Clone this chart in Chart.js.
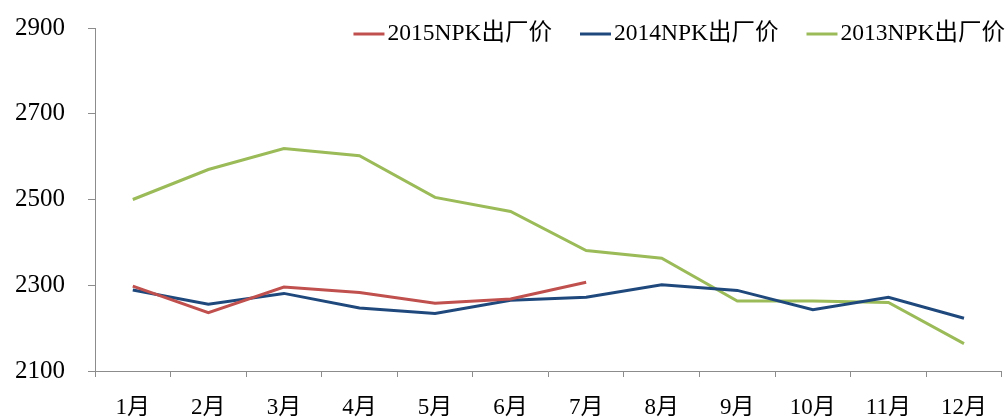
<!DOCTYPE html>
<html>
<head>
<meta charset="utf-8">
<script src="https://cdn.jsdelivr.net/npm/chart.js@4.4.0/dist/chart.umd.min.js"></script>
<style>
  html, body { margin: 0; padding: 0; background: #fff; }
  #wrap { width: 1006px; height: 419px; }
</style>
</head>
<body>
<div id="wrap"><canvas id="precios" width="1006" height="419"></canvas></div>
<script>
const meses = ["1月", "2月", "3月", "4月", "5月", "6月", "7月", "8月", "9月", "10月", "11月", "12月"];
const precios2015 = [2298, 2236, 2296, 2283, 2258, 2268, 2307];
const precios2014 = [2289, 2256, 2281, 2247, 2234, 2265, 2272, 2301, 2288, 2243, 2272, 2223];
const precios2013 = [2500, 2570, 2619, 2602, 2505, 2472, 2381, 2363, 2263, 2263, 2260, 2164];
const nombres = ["2015NPK出厂价", "2014NPK出厂价", "2013NPK出厂价"];
const colores = ["#C0504D", "#1F497D", "#9BBB59"];

const fuente = '"Liberation Serif", "Noto Sans CJK SC", serif';
const gris = "#8c8c8c";

// leyenda propia: linea corta pegada al texto, arriba a la derecha
const leyenda = {
    id: "leyenda",
    afterDraw(chart) {
        const ctx = chart.ctx;
        ctx.save();
        ctx.font = "23.5px " + fuente;
        ctx.textBaseline = "middle";
        ctx.fillStyle = "#000";
        const y = 34;
        let x = 1005;
        const sets = chart.data.datasets;
        for (let i = sets.length - 1; i >= 0; i--) {
            const w = ctx.measureText(sets[i].label).width;
            const tx = x - w;
            ctx.fillText(sets[i].label, tx, y);
            ctx.strokeStyle = sets[i].borderColor;
            ctx.lineWidth = 3;
            ctx.beginPath();
            ctx.moveTo(tx - 34, y);
            ctx.lineTo(tx - 3, y);
            ctx.stroke();
            x = tx - 34 - 28;
        }
        ctx.restore();
    }
};

const ctx = document.getElementById("precios").getContext("2d");
const config = {
    type: "line",
    data: {
        labels: meses,
        datasets: [
            { label: nombres[0], data: precios2015, borderColor: colores[0] },
            { label: nombres[1], data: precios2014, borderColor: colores[1] },
            { label: nombres[2], data: precios2013, borderColor: colores[2] }
        ].map(d => Object.assign(d, {
            backgroundColor: d.borderColor,
            borderWidth: 3,
            pointRadius: 0,
            tension: 0,
            fill: false
        }))
    },
    options: {
        responsive: false,
        animation: false,
        layout: { padding: { top: 0, left: -8, right: -1, bottom: -19 } },
        plugins: {
            legend: { display: false },
            tooltip: { enabled: false }
        },
        scales: {
            x: {
                offset: true,
                border: { color: gris, width: 1 },
                grid: { offset: true, drawOnChartArea: false, drawTicks: true, tickLength: 6, color: gris },
                ticks: {
                    color: "#000",
                    padding: 19,
                    maxRotation: 0,
                    autoSkip: false,
                    font: { family: fuente, size: 23, lineHeight: 1.0 }
                }
            },
            y: {
                min: 2100,
                max: 2900,
                border: { color: gris, width: 1 },
                grid: { drawOnChartArea: false, drawTicks: true, tickLength: 7, color: gris },
                ticks: {
                    stepSize: 200,
                    color: "#000",
                    padding: 23,
                    // lineHeight pequeño para que el area empiece en y=28
                    font: { family: fuente, size: 25, lineHeight: 0.4 },
                    callback: v => String(v)
                }
            }
        }
    },
    plugins: [leyenda]
};
const grafica = new Chart(ctx, config);
</script>
</body>
</html>
